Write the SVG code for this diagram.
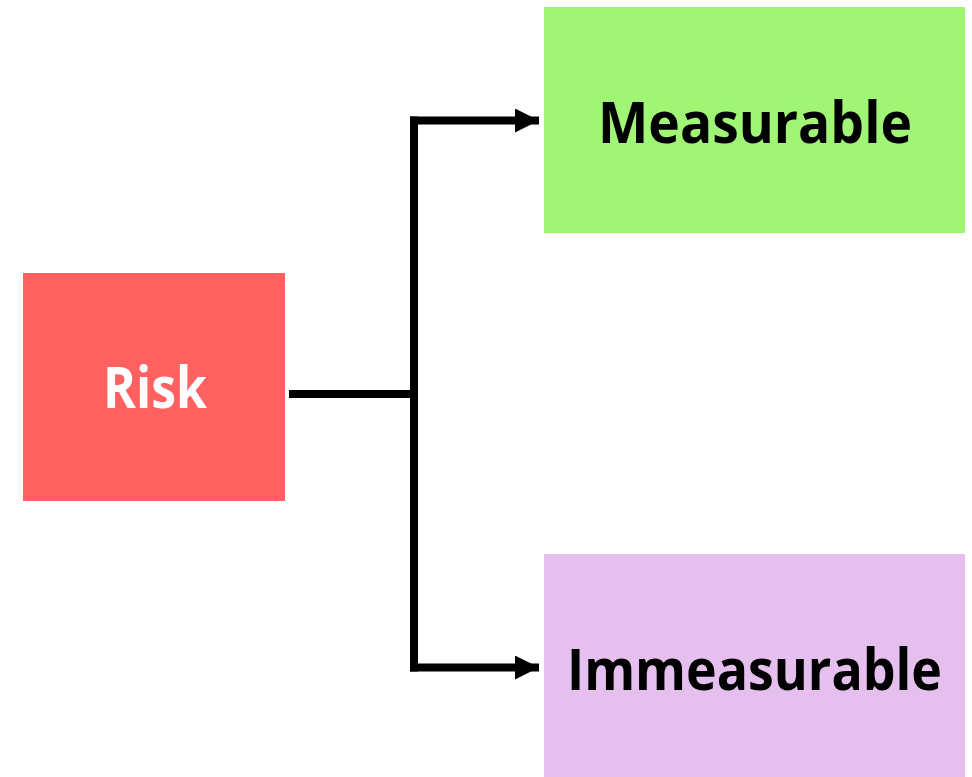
<svg xmlns="http://www.w3.org/2000/svg" width="972" height="777" viewBox="0 0 972 777">
<style>
.lbl{font-family:"Open Sans","Liberation Sans",sans-serif;font-weight:bold;font-size:57px;text-anchor:middle}
.ln{stroke:#000;stroke-width:8;fill:none}
</style>
<defs>
<marker id="ah" markerUnits="userSpaceOnUse" markerWidth="26" markerHeight="26" refX="24" refY="12" orient="auto">
<path d="M0,0 L24,12 L0,24 Z" fill="#000"/>
</marker>
</defs>
<rect width="972" height="777" fill="#fff"/>
<g id="risk">
<rect x="23" y="273" width="262" height="228" fill="#ff6161"/>
<text class="lbl" x="155" y="408" fill="#fff" textLength="104" lengthAdjust="spacingAndGlyphs">Risk</text>
</g>
<g id="measurable">
<rect x="544" y="7" width="421" height="226" fill="#a0f575"/>
<text class="lbl" x="755" y="143" fill="#000" textLength="314" lengthAdjust="spacingAndGlyphs">Measurable</text>
</g>
<g id="immeasurable">
<rect x="544" y="554" width="421" height="223" fill="#e5bfee"/>
<text class="lbl" x="754.5" y="690" fill="#000" textLength="375" lengthAdjust="spacingAndGlyphs">Immeasurable</text>
</g>
<g id="connectors">
<line class="ln" x1="289" y1="394" x2="414" y2="394"/>
<line class="ln" x1="414" y1="116.5" x2="414" y2="671.5"/>
<line class="ln" x1="410" y1="120.5" x2="539" y2="120.5" marker-end="url(#ah)"/>
<line class="ln" x1="410" y1="667.5" x2="539" y2="667.5" marker-end="url(#ah)"/>
</g>
</svg>
